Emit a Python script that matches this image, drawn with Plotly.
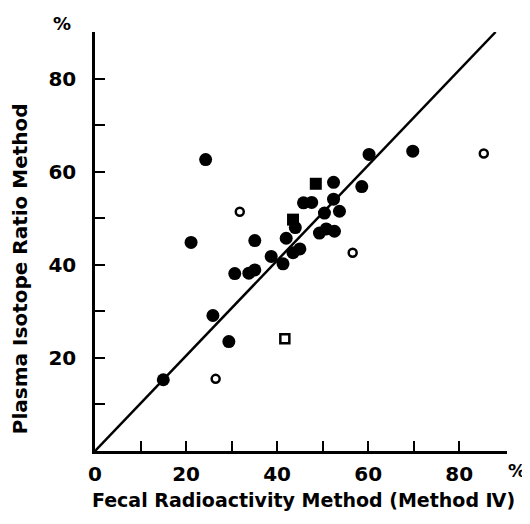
import plotly.graph_objects as go

# Data
filled_circle_x = [15.0, 21.1, 24.3, 25.9, 29.4, 30.7, 33.8, 35.1, 35.1, 38.7, 41.3, 42.0, 43.5, 45.0,
                   44.0, 45.8, 47.6, 49.3, 50.8, 52.6, 50.4, 52.4, 53.7, 52.4, 58.6, 60.2, 69.8]
filled_circle_y = [15.3, 44.8, 62.6, 29.1, 23.5, 38.1, 38.2, 38.9, 45.2, 41.8, 40.2, 45.7, 42.6, 43.4,
                   48.0, 53.3, 53.4, 46.8, 47.7, 47.2, 51.1, 54.1, 51.5, 57.7, 56.8, 63.7, 64.4]
open_circle_x = [26.5, 31.8, 56.6, 85.4]
open_circle_y = [15.5, 51.4, 42.6, 63.9]
filled_square_x = [48.5, 43.5]
filled_square_y = [57.4, 49.7]
open_square_x = [41.7]
open_square_y = [24.1]
line_x = [0, 88]
line_y = [0, 90]

x_tickvals = [0, 10, 20, 30, 40, 50, 60, 70, 80]
x_ticktext = ["0", "", "20", "", "40", "", "60", "", "80"]
y_tickvals = [10, 20, 30, 40, 50, 60, 70, 80]
y_ticktext = ["", "20", "", "40", "", "60", "", "80"]

x_title = "Fecal Radioactivity Method (Method Ⅳ)"
y_title = "Plasma Isotope Ratio Method"

FONT = "DejaVu Sans"

fig = go.Figure()
fig.add_trace(go.Scatter(x=line_x, y=line_y, mode="lines",
                         line=dict(color="black", width=2.5), showlegend=False))
fig.add_trace(go.Scatter(x=filled_circle_x, y=filled_circle_y, mode="markers",
                         marker=dict(symbol="circle", size=13, color="black"), showlegend=False))
fig.add_trace(go.Scatter(x=open_circle_x, y=open_circle_y, mode="markers",
                         marker=dict(symbol="circle-open", size=8, color="black",
                                     line=dict(width=2.5, color="black")), showlegend=False))
fig.add_trace(go.Scatter(x=filled_square_x, y=filled_square_y, mode="markers",
                         marker=dict(symbol="square", size=12, color="black"), showlegend=False))
fig.add_trace(go.Scatter(x=open_square_x, y=open_square_y, mode="markers",
                         marker=dict(symbol="square-open", size=9, color="black",
                                     line=dict(width=2.5, color="black")), showlegend=False))

# page body has an 8px default margin, so the figure is sized to fit the window
fig.update_layout(
    width=522, height=516,
    margin=dict(l=87, r=23, t=24, b=73),
    paper_bgcolor="white", plot_bgcolor="white",
    font=dict(family=FONT, color="black"),
)
fig.update_xaxes(range=[0, 90.5], showgrid=False, zeroline=False,
                 showline=True, linecolor="black", linewidth=2.5,
                 ticks="inside", ticklen=10, tickwidth=2, tickcolor="black",
                 tickvals=x_tickvals, ticktext=x_ticktext,
                 tickfont=dict(family=FONT, size=20, color="black", weight="bold"),
                 ticklabelstandoff=3)
fig.update_yaxes(range=[0, 90], showgrid=False, zeroline=False,
                 showline=True, linecolor="black", linewidth=2.5,
                 ticks="inside", ticklen=10, tickwidth=2, tickcolor="black",
                 tickvals=y_tickvals, ticktext=y_ticktext,
                 tickfont=dict(family=FONT, size=20, color="black", weight="bold"),
                 ticklabelstandoff=12)

fig.add_annotation(xref="paper", yref="paper", x=0.505, y=-0.117, yanchor="middle",
                   xanchor="center", text=x_title, showarrow=False,
                   font=dict(family=FONT, size=19, color="black", weight="bold"))
fig.add_annotation(xref="paper", yref="paper", x=-0.182, y=0.434, textangle=-90,
                   xanchor="center", yanchor="middle", text=y_title, showarrow=False,
                   font=dict(family=FONT, size=20, color="black", weight="bold"))
fig.add_annotation(xref="paper", yref="paper", x=0, y=1, xshift=-33, yshift=9,
                   xanchor="center", yanchor="middle", text="%", showarrow=False,
                   font=dict(family=FONT, size=18, color="black", weight="bold"))
fig.add_annotation(xref="paper", yref="paper", x=1, y=0, xshift=10, yshift=-19,
                   xanchor="center", yanchor="middle", text="%", showarrow=False,
                   font=dict(family=FONT, size=18, color="black", weight="bold"))

fig.write_html("out.html")
